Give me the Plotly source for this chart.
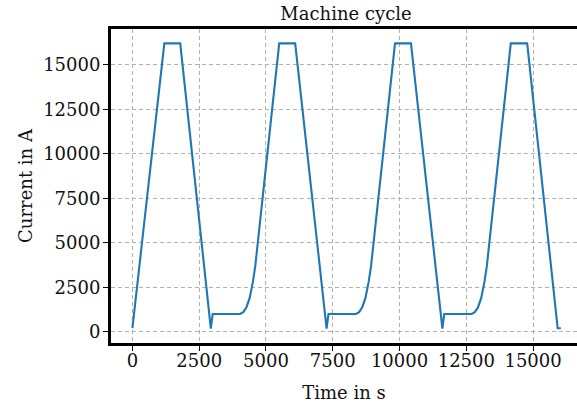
import plotly.graph_objects as go

# Time (s) and current (A)
time_s = [0, 1195, 1790, 2935, 3005, 4030, 4150, 4270, 4390, 4510, 4600, 4700, 5496,
          6094, 7270, 7340, 8365, 8485, 8605, 8725, 8845, 8935, 9035, 9831,
          10429, 11605, 11675, 12700, 12820, 12940, 13060, 13180, 13270, 13370, 14166,
          14780, 15920, 16040]
current_a = [200, 16200, 16200, 180, 1000, 1000, 1100, 1380, 1900, 2800, 3700, 5100, 16200,
             16200, 180, 1000, 1000, 1100, 1380, 1900, 2800, 3700, 5100, 16200,
             16200, 180, 1000, 1000, 1100, 1380, 1900, 2800, 3700, 5100, 16200,
             16200, 200, 200]

x_ticks = [0, 2500, 5000, 7500, 10000, 12500, 15000]
y_ticks = [0, 2500, 5000, 7500, 10000, 12500, 15000]

W, H = 577, 403
ML, MT, MB = 110.6, 29, 60
x_scale = 0.026733  # px per second
y_scale = 0.0178    # px per A
x0 = -802
x1 = x0 + (W - ML) / x_scale
y0 = -631
y1 = y0 + (H - MT - MB) / y_scale

font = "DejaVu Serif"

fig = go.Figure()
fig.add_trace(go.Scatter(x=time_s, y=current_a, mode="lines",
                         line=dict(color="#1f77b4", width=2.1), showlegend=False))

axis_common = dict(
    showgrid=True, gridcolor="#b0b0b0", gridwidth=1, griddash="4px,3px",
    zeroline=False, showline=True, linecolor="black", linewidth=3,
    ticks="outside", ticklen=5, tickwidth=1.2, tickcolor="black",
    tickfont=dict(family=font, size=18, color="#111111"),
    automargin=False,
)

fig.update_xaxes(range=[x0, x1], tickvals=x_ticks, ticktext=[str(v) for v in x_ticks],
                 mirror=True, ticklabelstandoff=-6,
                 title=dict(text="Time in s", font=dict(family=font, size=18, color="#111111"), standoff=18),
                 **axis_common)
fig.update_yaxes(range=[y0, y1], tickvals=y_ticks, ticktext=[str(v) for v in y_ticks],
                 ticklabelstandoff=-1,
                 title=dict(text="Current in A", font=dict(family=font, size=18, color="#111111"), standoff=6),
                 **axis_common)

fig.update_layout(
    width=W, height=H,
    margin=dict(l=ML, r=0, t=MT, b=MB, pad=0),
    plot_bgcolor="white", paper_bgcolor="white",
    title=dict(text="Machine cycle", font=dict(family=font, size=18, color="#111111"),
               x=346 / W, xanchor="center", xref="container",
               yref="paper", y=1, yanchor="bottom", pad=dict(b=9)),
)

fig.write_html("out.html")
